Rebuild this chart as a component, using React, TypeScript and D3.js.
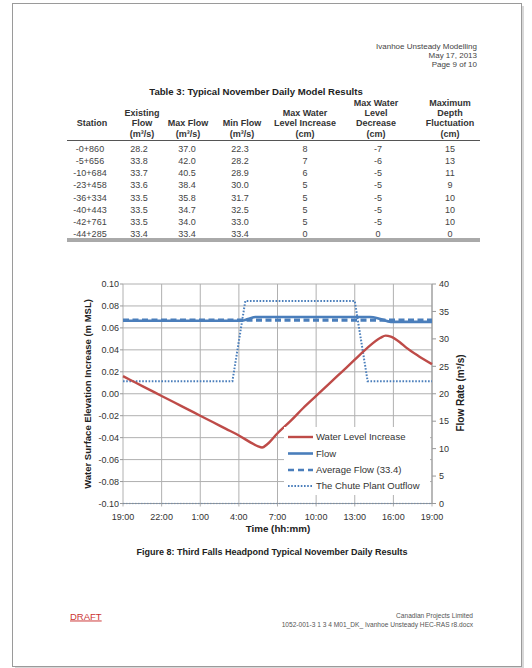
import React from "react";
import * as d3 from "d3";

// ---------- Table data ----------
const stations = ["-0+860", "-5+656", "-10+684", "-23+458", "-36+334", "-40+443", "-42+761", "-44+285"];
const existingFlow = ["28.2", "33.8", "33.7", "33.6", "33.5", "33.5", "33.5", "33.4"];
const maxFlow = ["37.0", "42.0", "40.5", "38.4", "35.8", "34.7", "34.0", "33.4"];
const minFlow = ["22.3", "28.2", "28.9", "30.0", "31.7", "32.5", "33.0", "33.4"];
const maxIncrease = ["8", "7", "6", "5", "5", "5", "5", "0"];
const maxDecrease = ["-7", "-6", "-5", "-5", "-5", "-5", "-5", "0"];
const maxFluct = ["15", "13", "11", "9", "10", "10", "10", "0"];

// ---------- Chart data (hours after 19:00) ----------
const levelHours = [0, 1, 2, 3, 4, 5, 6, 7, 8, 9, 10, 10.5, 10.8, 11.2, 12, 13, 14, 15, 16, 17, 18, 19, 20, 20.4, 20.8, 21.5, 22, 23, 24];
const levelValues = [0.016, 0.010, 0.004, -0.002, -0.008, -0.014, -0.020, -0.026, -0.032, -0.038, -0.045, -0.048, -0.049, -0.046, -0.036, -0.025, -0.013, -0.002, 0.009, 0.020, 0.031, 0.042, 0.051, 0.053, 0.052, 0.047, 0.042, 0.034, 0.027];

const flowHours = [0, 9.2, 9.7, 10.3, 19.2, 20.0, 20.8, 24];
const flowValues = [33.3, 33.3, 33.6, 34.0, 34.0, 33.6, 33.1, 33.1];

const avgHours = [0, 24];
const avgValues = [33.4, 33.4];

const chuteHours = [0, 8.5, 9.5, 18.0, 19.0, 24];
const chuteValues = [22.3, 22.3, 36.9, 36.9, 22.3, 22.3];

const timeTicks = [0, 3, 6, 9, 12, 15, 18, 21, 24];
const timeLabels = ["19:00", "22:00", "1:00", "4:00", "7:00", "10:00", "13:00", "16:00", "19:00"];
const leftTicks = [-0.1, -0.08, -0.06, -0.04, -0.02, 0, 0.02, 0.04, 0.06, 0.08, 0.1];
const rightTicks = [0, 5, 10, 15, 20, 25, 30, 35, 40];

const legendLabels = ["Water Level Increase", "Flow", "Average Flow (33.4)", "The Chute Plant Outflow"];

const FONT = "'Liberation Sans', Arial, sans-serif";
const BLUE = "#4a7ebb";
const RED = "#be4b48";
const GRID = "#b0b0b0";
const TXT = "#333";

export default function App() {
  const x = d3.scaleLinear().domain([0, 24]).range([123, 432]);
  const yL = d3.scaleLinear().domain([-0.1, 0.1]).range([503.5, 284]);
  const yR = d3.scaleLinear().domain([0, 40]).range([503.5, 284]);

  const pts = (hs: number[], vs: number[]) => hs.map((h, i) => [h, vs[i]] as [number, number]);
  const lineL = d3.line<[number, number]>().x(d => x(d[0])).y(d => yL(d[1])).curve(d3.curveMonotoneX);
  const lineRsmooth = d3.line<[number, number]>().x(d => x(d[0])).y(d => yR(d[1])).curve(d3.curveMonotoneX);
  const lineR = d3.line<[number, number]>().x(d => x(d[0])).y(d => yR(d[1]));

  const fmtL = (v: number) => (Math.abs(v) < 1e-9 ? "0.00" : d3.format(".2f")(v).replace("−", "-"));

  // table layout
  const cols = [
    { cx: 92, head: ["", "", "Station", ""], data: stations, dx: 90 },
    { cx: 142, head: ["", "Existing", "Flow", "(m³/s)"], data: existingFlow, dx: 139 },
    { cx: 188, head: ["", "", "Max Flow", "(m³/s)"], data: maxFlow, dx: 187 },
    { cx: 242, head: ["", "", "Min Flow", "(m³/s)"], data: minFlow, dx: 240 },
    { cx: 305, head: ["", "Max Water", "Level Increase", "(cm)"], data: maxIncrease, dx: 305 },
    { cx: 376, head: ["Max Water", "Level", "Decrease", "(cm)"], data: maxDecrease, dx: 378 },
    { cx: 450, head: ["Maximum", "Depth", "Fluctuation", "(cm)"], data: maxFluct, dx: 450 },
  ];
  const headY = [105.6, 115.7, 126, 137];
  const rowY = (i: number) => 151.8 + i * 12.2;

  const legendY = [437, 453.5, 470, 486];

  return (
    <svg width={532} height={668} style={{ position: "absolute", left: 0, top: 0, background: "#fff" }} fontFamily={FONT}>
      {/* page */}
      <rect x={15} y={6} width={509} height={663} fill="#d8d8d8" />
      <rect x={12.5} y={3.5} width={509} height={663} fill="#fff" stroke="#9a9a9a" strokeWidth={1} />

      {/* header */}
      <g fontSize={8} fill="#444" textAnchor="end">
        <text x={477} y={48.5}>Ivanhoe Unsteady Modelling</text>
        <text x={477} y={57.5}>May 17, 2013</text>
        <text x={477} y={66.5}>Page 9 of 10</text>
      </g>

      {/* table */}
      <text x={256} y={95} textAnchor="middle" fontSize={9.6} fontWeight="bold" fill="#222">Table 3: Typical November Daily Model Results</text>
      {cols.map((c, ci) => (
        <g key={ci}>
          {c.head.map((h, hi) =>
            h ? (
              <text key={hi} x={c.cx} y={headY[hi]} textAnchor="middle" fontSize={9} fontWeight="bold" fill="#333">{h}</text>
            ) : null
          )}
          {c.data.map((v, ri) => (
            <text key={ri} x={c.dx} y={rowY(ri)} textAnchor="middle" fontSize={9} fill="#444">{v}</text>
          ))}
        </g>
      ))}
      <line x1={67} x2={480} y1={140.5} y2={140.5} stroke="#555" strokeWidth={1} />
      <line x1={67} x2={480} y1={239} y2={239} stroke="#555" strokeWidth={1} />
      <line x1={67} x2={480} y1={241} y2={241} stroke="#555" strokeWidth={1} />

      {/* chart grid */}
      {leftTicks.map((t, i) => (
        <line key={"h" + i} x1={x(0)} x2={x(24)} y1={yL(t)} y2={yL(t)} stroke={GRID} strokeWidth={1} />
      ))}
      {timeTicks.map((t, i) => (
        <line key={"v" + i} x1={x(t)} x2={x(t)} y1={yL(0.1)} y2={yL(-0.1) + 3} stroke={GRID} strokeWidth={1} />
      ))}
      {/* right axis */}
      <line x1={x(24)} x2={x(24)} y1={yR(40)} y2={yR(0)} stroke="#999" />
      {rightTicks.map((t, i) => (
        <line key={"rt" + i} x1={x(24)} x2={x(24) + 4} y1={yR(t)} y2={yR(t)} stroke="#999" />
      ))}
      <line x1={x(0) - 3} x2={x(24)} y1={yL(-0.1)} y2={yL(-0.1)} stroke="#999" />
      <line x1={x(0)} x2={x(24)} y1={yL(-0.1)} y2={yL(-0.1)} stroke={BLUE} strokeWidth={1.5} strokeDasharray="1.5,1.5" opacity={0.35} />
      {leftTicks.map((t, i) => (
        <line key={"lt" + i} x1={x(0) - 3} x2={x(0)} y1={yL(t)} y2={yL(t)} stroke="#999" />
      ))}

      {/* series */}
      <path d={lineR(pts(chuteHours, chuteValues)) || ""} fill="none" stroke={BLUE} strokeWidth={2} strokeDasharray="1.6,1.6" />
      <path d={lineR(pts(avgHours, avgValues)) || ""} fill="none" stroke={BLUE} strokeWidth={3.2} strokeDasharray="6,3.5" />
      <path d={lineRsmooth(pts(flowHours, flowValues)) || ""} fill="none" stroke={BLUE} strokeWidth={2.6} />
      <path d={lineL(pts(levelHours, levelValues)) || ""} fill="none" stroke={RED} strokeWidth={2.4} />

      {/* legend */}
      <rect x={284} y={427} width={146} height={68} fill="#fff" />
      <line x1={288} x2={313} y1={legendY[0]} y2={legendY[0]} stroke={RED} strokeWidth={2.4} />
      <line x1={288} x2={313} y1={legendY[1]} y2={legendY[1]} stroke={BLUE} strokeWidth={2.6} />
      <line x1={288} x2={313} y1={legendY[2]} y2={legendY[2]} stroke={BLUE} strokeWidth={2.4} strokeDasharray="6,4" />
      <line x1={288} x2={313} y1={legendY[3]} y2={legendY[3]} stroke={BLUE} strokeWidth={2} strokeDasharray="1.6,1.6" />
      {legendLabels.map((l, i) => (
        <text key={l} x={316} y={legendY[i] + 3.3} fontSize={9.5} fill={TXT}>{l}</text>
      ))}

      {/* tick labels */}
      {leftTicks.map((t, i) => (
        <text key={"ll" + i} x={119} y={yL(t) + 3.2} textAnchor="end" fontSize={9} fill={TXT}>{fmtL(t)}</text>
      ))}
      {rightTicks.map((t, i) => (
        <text key={"rl" + i} x={439} y={yR(t) + 3.2} textAnchor="start" fontSize={9} fill={TXT}>{t}</text>
      ))}
      {timeTicks.map((t, i) => (
        <text key={"tl" + i} x={x(t)} y={520} textAnchor="middle" fontSize={9} fill={TXT}>{timeLabels[i]}</text>
      ))}

      {/* axis titles */}
      <text x={278} y={531.5} textAnchor="middle" fontSize={9.8} fontWeight="bold" fill="#222">Time (hh:mm)</text>
      <text transform="translate(91,394) rotate(-90)" textAnchor="middle" fontSize={9.5} fontWeight="bold" fill="#222">Water Surface Elevation Increase (m MSL)</text>
      <text transform="translate(464,393) rotate(-90)" textAnchor="middle" fontSize={10} fontWeight="bold" fill="#222">Flow Rate (m³/s)</text>

      {/* caption */}
      <text x={272} y={555} textAnchor="middle" fontSize={9} fontWeight="bold" fill="#222">Figure 8: Third Falls Headpond Typical November Daily Results</text>

      {/* footer */}
      <text x={70} y={619.5} fontSize={9.5} fill="#cc3333" textDecoration="underline">DRAFT</text>
      <g fontSize={6.6} fill="#555" textAnchor="end">
        <text x={473} y={618}>Canadian Projects Limited</text>
        <text x={473} y={627}>1052-001-3 1 3 4 M01_DK_ Ivanhoe Unsteady HEC-RAS r8.docx</text>
      </g>
    </svg>
  );
}
